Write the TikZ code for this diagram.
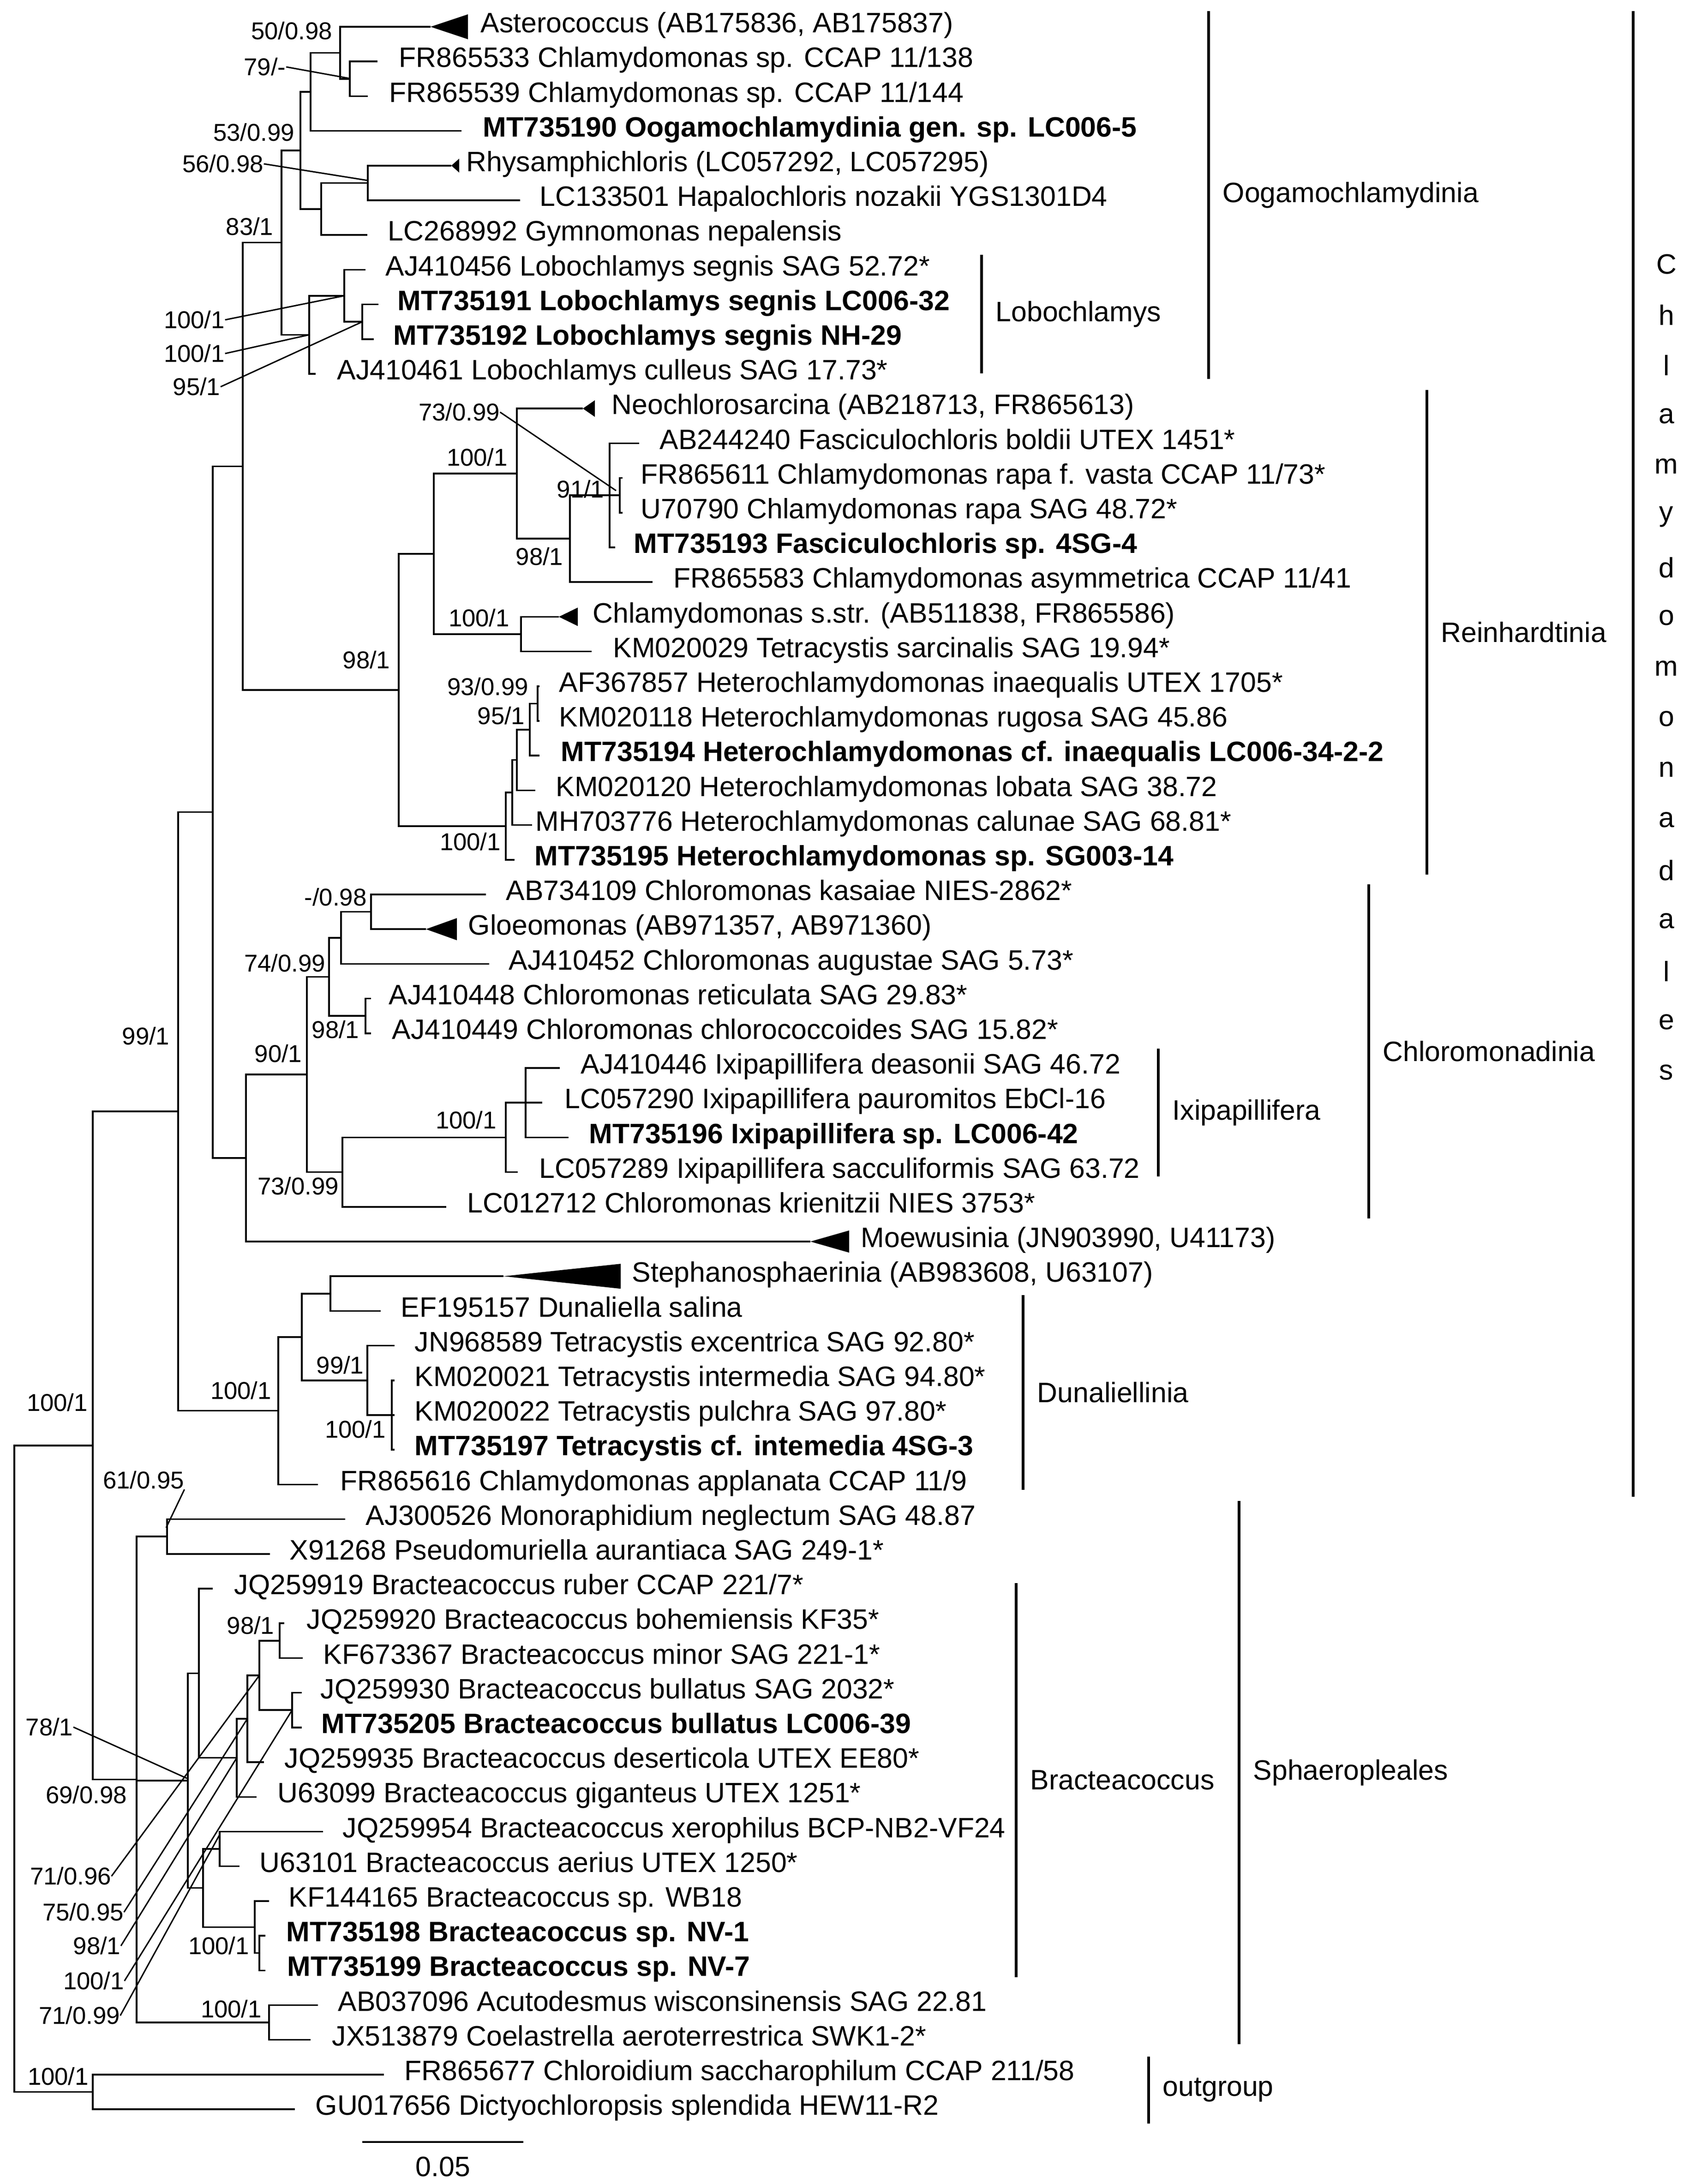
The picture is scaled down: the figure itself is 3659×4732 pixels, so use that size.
\documentclass[tikz,border=0pt]{standalone}
\usepackage{fontspec}
\setmainfont{Liberation Sans}
\newcommand\leaf[4]{\coordinate (e#1) at (#2,{58+(#1-1)*75.2}); \node[leaftext] (t#1) at (#3,{58+(#1-1)*75.2}) {#4};}
\newcommand\tri[3]{\fill (e#1) -- ++(#2,-#3) -- ++(0,2*#3) -- cycle;}
\begin{document}
\begin{tikzpicture}[x=0.1mm,y=-0.1mm,
  leaftext/.style={anchor=west,inner sep=0pt,font=\fontsize{17.3}{20}\selectfont,text height=0.9em,text depth=0.18em},
  sup/.style={inner sep=0pt,font=\fontsize{15}{17}\selectfont},
  br/.style={line width=0.35mm},
  lead/.style={line width=0.3mm},
  bar/.style={line width=0.6mm},
  clade/.style={anchor=west,inner sep=0pt,font=\fontsize{17.3}{20}\selectfont}]
\useasboundingbox (0,0) rectangle (3659,4732);
% leaves
\leaf{1}{933}{1041}{Asterococcus (AB175836, AB175837)}
\leaf{2}{818}{864}{FR865533 Chlamydomonas sp. CCAP 11/138}
\leaf{3}{797}{843}{FR865539 Chlamydomonas sp. CCAP 11/144}
\leaf{4}{1000}{1046}{\textbf{MT735190 Oogamochlamydinia gen. sp. LC006-5}}
\leaf{5}{978}{1010}{Rhysamphichloris (LC057292, LC057295)}
\leaf{6}{1127}{1169}{LC133501 Hapalochloris nozakii YGS1301D4}
\leaf{7}{796}{840}{LC268992 Gymnomonas nepalensis}
\leaf{8}{792}{835}{AJ410456 Lobochlamys segnis SAG 52.72*}
\leaf{9}{820}{861}{\textbf{MT735191 Lobochlamys segnis LC006-32}}
\leaf{10}{810}{852}{\textbf{MT735192 Lobochlamys segnis NH-29}}
\leaf{11}{684}{730}{AJ410461 Lobochlamys culleus SAG 17.73*}
\leaf{12}{1263}{1325}{Neochlorosarcina (AB218713, FR865613)}
\leaf{13}{1385}{1429}{AB244240 Fasciculochloris boldii UTEX 1451*}
\leaf{14}{1349}{1388}{FR865611 Chlamydomonas rapa f. vasta CCAP 11/73*}
\leaf{15}{1349}{1388}{U70790 Chlamydomonas rapa SAG 48.72*}
\leaf{16}{1333}{1373}{\textbf{MT735193 Fasciculochloris sp. 4SG-4}}
\leaf{17}{1414}{1459}{FR865583 Chlamydomonas asymmetrica CCAP 11/41}
\leaf{18}{1211}{1284}{Chlamydomonas s.str. (AB511838, FR865586)}
\leaf{19}{1282}{1328}{KM020029 Tetracystis sarcinalis SAG 19.94*}
\leaf{20}{1169}{1211}{AF367857 Heterochlamydomonas inaequalis UTEX 1705*}
\leaf{21}{1169}{1211}{KM020118 Heterochlamydomonas rugosa SAG 45.86}
\leaf{22}{1169}{1215}{\textbf{MT735194 Heterochlamydomonas cf. inaequalis LC006-34-2-2}}
\leaf{23}{1160}{1204}{KM020120 Heterochlamydomonas lobata SAG 38.72}
\leaf{24}{1153}{1160}{MH703776 Heterochlamydomonas calunae SAG 68.81*}
\leaf{25}{1115}{1158}{\textbf{MT735195 Heterochlamydomonas sp. SG003-14}}
\leaf{26}{1053}{1096}{AB734109 Chloromonas kasaiae NIES-2862*}
\leaf{27}{923}{1014}{Gloeomonas (AB971357, AB971360)}
\leaf{28}{1060}{1102}{AJ410452 Chloromonas augustae SAG 5.73*}
\leaf{29}{804}{842}{AJ410448 Chloromonas reticulata SAG 29.83*}
\leaf{30}{804}{849}{AJ410449 Chloromonas chlorococcoides SAG 15.82*}
\leaf{31}{1213}{1258}{AJ410446 Ixipapillifera deasonii SAG 46.72}
\leaf{32}{1175}{1223}{LC057290 Ixipapillifera pauromitos EbCl-16}
\leaf{33}{1232}{1276}{\textbf{MT735196 Ixipapillifera sp. LC006-42}}
\leaf{34}{1122}{1168}{LC057289 Ixipapillifera sacculiformis SAG 63.72}
\leaf{35}{967}{1012}{LC012712 Chloromonas krienitzii NIES 3753*}
\leaf{36}{1756}{1865}{Moewusinia (JN903990, U41173)}
\leaf{37}{1091}{1369}{Stephanosphaerinia (AB983608, U63107)}
\leaf{38}{825}{868}{EF195157 Dunaliella salina}
\leaf{39}{855}{898}{JN968589 Tetracystis excentrica SAG 92.80*}
\leaf{40}{855}{898}{KM020021 Tetracystis intermedia SAG 94.80*}
\leaf{41}{855}{898}{KM020022 Tetracystis pulchra SAG 97.80*}
\leaf{42}{855}{898}{\textbf{MT735197 Tetracystis cf. intemedia 4SG-3}}
\leaf{43}{689}{737}{FR865616 Chlamydomonas applanata CCAP 11/9}
\leaf{44}{748}{792}{AJ300526 Monoraphidium neglectum SAG 48.87}
\leaf{45}{585}{627}{X91268 Pseudomuriella aurantiaca SAG 249-1*}
\leaf{46}{461}{507}{JQ259919 Bracteacoccus ruber CCAP 221/7*}
\leaf{47}{616}{664}{JQ259920 Bracteacoccus bohemiensis KF35*}
\leaf{48}{656}{700}{KF673367 Bracteacoccus minor SAG 221-1*}
\leaf{49}{654}{694}{JQ259930 Bracteacoccus bullatus SAG 2032*}
\leaf{50}{654}{696}{\textbf{MT735205 Bracteacoccus bullatus LC006-39}}
\leaf{51}{572}{616}{JQ259935 Bracteacoccus deserticola UTEX EE80*}
\leaf{52}{556}{601}{U63099 Bracteacoccus giganteus UTEX 1251*}
\leaf{53}{700}{742}{JQ259954 Bracteacoccus xerophilus BCP-NB2-VF24}
\leaf{54}{519}{562}{U63101 Bracteacoccus aerius UTEX 1250*}
\leaf{55}{583}{625}{KF144165 Bracteacoccus sp. WB18}
\leaf{56}{575}{620}{\textbf{MT735198 Bracteacoccus sp. NV-1}}
\leaf{57}{575}{622}{\textbf{MT735199 Bracteacoccus sp. NV-7}}
\leaf{58}{689}{732}{AB037096 Acutodesmus wisconsinensis SAG 22.81}
\leaf{59}{673}{719}{JX513879 Coelastrella aeroterrestrica SWK1-2*}
\leaf{60}{832}{876}{FR865677 Chloroidium saccharophilum CCAP 211/58}
\leaf{61}{639}{683}{GU017656 Dictyochloropsis splendida HEW11-R2}
% collapsed clades
\tri{1}{81}{27}
\tri{5}{17}{15}
\tri{12}{26}{18}
\tri{18}{41}{20}
\tri{27}{67}{24}
\tri{36}{84}{24}
\tri{37}{254}{27}
% internal nodes (y shifted by +3 to match rows)
\begin{scope}[yshift=-0.3mm]
\coordinate (n1) at (758,167.8);
\coordinate (n2) at (737,111.4);
\coordinate (n3) at (673,196);
\coordinate (n4) at (797,393.4);
\coordinate (n5) at (696,449.8);
\coordinate (n6) at (651,322.9);
\coordinate (n8) at (785,694.2);
\coordinate (n9) at (746,637.8);
\coordinate (n10) at (670,722.4);
\coordinate (n7) at (610,522.6);
\coordinate (n11) at (1343,1070.2);
\coordinate (n13) at (1321,1070.2);
\coordinate (n14) at (1235,1164.2);
\coordinate (n15) at (1120,1023.2);
\coordinate (n17) at (1129,1371);
\coordinate (n16) at (940,1197.1);
\coordinate (n18) at (1165,1521.4);
\coordinate (n19) at (1148,1577.8);
\coordinate (n20) at (1120,1643.6);
\coordinate (n21a) at (1110,1714.1);
\coordinate (n21) at (1096,1787);
\coordinate (n22) at (864,1492);
\coordinate (n23) at (526,1007.3);
\coordinate (n24) at (804,1972.6);
\coordinate (n25) at (739,2029);
\coordinate (n26) at (792,2198.2);
\coordinate (n27) at (713,2113.6);
\coordinate (n28) at (1139,2386.2);
\coordinate (n29) at (1096,2461.4);
\coordinate (n30) at (742,2536.6);
\coordinate (n31) at (665,2325.1);
\coordinate (nX) at (533,2506);
\coordinate (n32) at (461,1756.7);
\coordinate (n34) at (716,2799.8);
\coordinate (n36) at (849,3063);
\coordinate (n35) at (796,2987.8);
\coordinate (n37) at (654,2893.8);
\coordinate (n38) at (603,3053.6);
\coordinate (n39) at (386,2405.2);
\coordinate (n42) at (362,3326.2);
\coordinate (nF) at (606,3551.8);
\coordinate (nG) at (633,3702.2);
\coordinate (nE) at (562,3627);
\coordinate (nD) at (536,3721);
\coordinate (nC) at (513,3805.6);
\coordinate (nA) at (431,3622.3);
\coordinate (nH) at (476,4003);
\coordinate (nJ) at (562,4228.6);
\coordinate (nI) at (552,4172.2);
\coordinate (nK) at (440,4087.6);
\coordinate (n44) at (407,3855);
\coordinate (n43) at (583,4379);
\coordinate (n41) at (296,3852.6);
\coordinate (n40) at (201,3128.9);
\coordinate (nO) at (201,4529.4);
\coordinate (root) at (31,3829);
\end{scope}
% branches
\begin{scope}[br]
\draw (n1) |- (e2); \draw (n1) |- (e3);
\draw (n2) |- (e1); \draw (n2) |- (n1);
\draw (n3) |- (n2); \draw (n3) |- (e4);
\draw (n4) |- (e5); \draw (n4) |- (e6);
\draw (n5) |- (n4); \draw (n5) |- (e7);
\draw (n6) |- (n3); \draw (n6) |- (n5);
\draw (n8) |- (e9); \draw (n8) |- (e10);
\draw (n9) |- (e8); \draw (n9) |- (n8);
\draw (n10) |- (n9); \draw (n10) |- (e11);
\draw (n7) |- (n6); \draw (n7) |- (n10);
\draw (n11) |- (e14); \draw (n11) |- (e15);
\draw (n13) |- (e13); \draw (n13) |- (n11); \draw (n13) |- (e16);
\draw (n14) |- (n13); \draw (n14) |- (e17);
\draw (n15) |- (e12); \draw (n15) |- (n14);
\draw (n17) |- (e18); \draw (n17) |- (e19);
\draw (n16) |- (n15); \draw (n16) |- (n17);
\draw (n18) |- (e20); \draw (n18) |- (e21);
\draw (n19) |- (n18); \draw (n19) |- (e22);
\draw (n20) |- (n19); \draw (n20) |- (e23);
\draw (n21a) |- (n20); \draw (n21a) |- (e24);
\draw (n21) |- (n21a); \draw (n21) |- (e25);
\draw (n22) |- (n16); \draw (n22) |- (n21);
\draw (n23) |- (n7); \draw (n23) |- (n22);
\draw (n24) |- (e26); \draw (n24) |- (e27);
\draw (n25) |- (n24); \draw (n25) |- (e28);
\draw (n26) |- (e29); \draw (n26) |- (e30);
\draw (n27) |- (n25); \draw (n27) |- (n26);
\draw (n28) |- (e31); \draw (n28) |- (e32); \draw (n28) |- (e33);
\draw (n29) |- (n28); \draw (n29) |- (e34);
\draw (n30) |- (n29); \draw (n30) |- (e35);
\draw (n31) |- (n27); \draw (n31) |- (n30);
\draw (nX) |- (n31); \draw (nX) |- (e36);
\draw (n32) |- (n23); \draw (n32) |- (nX);
\draw (n34) |- (e37); \draw (n34) |- (e38);
\draw (n36) |- (e40); \draw (n36) |- (e41); \draw (n36) |- (e42);
\draw (n35) |- (e39); \draw (n35) |- (n36);
\draw (n37) |- (n34); \draw (n37) |- (n35);
\draw (n38) |- (n37); \draw (n38) |- (e43);
\draw (n39) |- (n32); \draw (n39) |- (n38);
\draw (n42) |- (e44); \draw (n42) |- (e45);
\draw (nF) |- (e47); \draw (nF) |- (e48);
\draw (nG) |- (e49); \draw (nG) |- (e50);
\draw (nE) |- (nF); \draw (nE) |- (nG);
\draw (nD) |- (nE); \draw (nD) |- (e51);
\draw (nC) |- (nD); \draw (nC) |- (e52);
\draw (nA) |- (e46); \draw (nA) |- (nC);
\draw (nH) |- (e53); \draw (nH) |- (e54);
\draw (nJ) |- (e56); \draw (nJ) |- (e57);
\draw (nI) |- (e55); \draw (nI) |- (nJ);
\draw (nK) |- (nH); \draw (nK) |- (nI);
\draw (n44) |- (nA); \draw (n44) |- (nK);
\draw (n43) |- (e58); \draw (n43) |- (e59);
\draw (n41) |- (n42); \draw (n41) |- (n44); \draw (n41) |- (n43);
\draw (n40) |- (n39); \draw (n40) |- (n41);
\draw (nO) |- (e60); \draw (nO) |- (e61);
\draw (root) |- (n40); \draw (root) |- (nO);
\end{scope}
% support values
\node[sup] (s1) at (632,67) {50/0.98};
\node[sup] (s2) at (574,145) {79/-};
\node[sup] (s3) at (550,287) {53/0.99};
\node[sup] (s4) at (483,355) {56/0.98};
\node[sup] (s5) at (541,491) {83/1};
\node[sup] (s6) at (421,693) {100/1};
\node[sup] (s7) at (421,766) {100/1};
\node[sup] (s8) at (426,838) {95/1};
\node[sup] (s9) at (995,893) {73/0.99};
\node[sup] (s10) at (1034,991) {100/1};
\node[sup] (s11) at (1258,1060) {91/1};
\node[sup] (s12) at (1169,1206) {98/1};
\node[sup] (s13) at (1038,1339) {100/1};
\node[sup] (s14) at (794,1430) {98/1};
\node[sup] (s15) at (1057,1488) {93/0.99};
\node[sup] (s16) at (1086,1551) {95/1};
\node[sup] (s17) at (1019,1824) {100/1};
\node[sup] (s18) at (727,1944) {-/0.98};
\node[sup] (s19) at (617,2087) {74/0.99};
\node[sup] (s20) at (727,2231) {98/1};
\node[sup] (s21) at (603,2283) {90/1};
\node[sup] (s22) at (1010,2427) {100/1};
\node[sup] (s23) at (646,2570) {73/0.99};
\node[sup] (s24) at (316,2245) {99/1};
\node[sup] (s25) at (124,3039) {100/1};
\node[sup] (s26) at (522,3013) {100/1};
\node[sup] (s27) at (737,2958) {99/1};
\node[sup] (s28) at (770,3097) {100/1};
\node[sup] (s29) at (311,3207) {61/0.95};
\node[sup] (s30) at (107,3742) {78/1};
\node[sup] (s31) at (187,3889) {69/0.98};
\node[sup] (s32) at (153,4065) {71/0.96};
\node[sup] (s33) at (180,4143) {75/0.95};
\node[sup] (s34) at (210,4216) {98/1};
\node[sup] (s35) at (203,4292) {100/1};
\node[sup] (s36) at (172,4367) {71/0.99};
\node[sup] (s37) at (543,3522) {98/1};
\node[sup] (s38) at (474,4216) {100/1};
\node[sup] (s39) at (501,4353) {100/1};
\node[sup] (s40) at (126,4499) {100/1};
% leader lines
\coordinate (p2) at (758,170);
\coordinate (p4) at (797,391);
\coordinate (p9) at (1335,1063);
\coordinate (p29) at (360,3310);
\coordinate (p30) at (405,3853);
\coordinate (p36) at (476,3975);
\begin{scope}[lead]
\draw (s2.east) -- (p2);
\draw (s4.east) -- (p4);
\draw (s6.east) -- (n9);
\draw (s7.east) -- (n10);
\draw (s8.east) -- (n8);
\draw (s9.east) -- (p9);
\draw (s29.south east) -- (p29);
\draw (s30.east) -- (p30);
\draw (s32.east) -- (nE);
\draw (s33.east) -- (nD);
\draw (s34.east) -- (nC);
\draw (s35.east) -- (nG);
\draw (s36.east) -- (p36);
\end{scope}
% scale bar
\coordinate (sbL) at (785,4641);
\coordinate (sbR) at (1134,4641);
\draw[br] (sbL) -- (sbR);
\node[inner sep=0pt,font=\fontsize{17.3}{20}\selectfont] (sbl) at (960,4695) {0.05};
% clade bars
\newcommand\cladebar[5]{\coordinate (#1a) at (#2,#3); \coordinate (#1b) at (#2,#4); \draw[bar] (#1a) -- (#1b); \node[clade] (#1l) at ({#2+30},{(#3+#4)/2}) {#5};}
\cladebar{oog}{2619}{24}{821}{Oogamochlamydinia}
\cladebar{lob}{2127}{552}{809}{Lobochlamys}
\cladebar{rei}{3092}{845}{1895}{Reinhardtinia}
\cladebar{chl}{2966}{1916}{2640}{Chloromonadinia}
\cladebar{ixi}{2510}{2272}{2549}{Ixipapillifera}
\cladebar{dun}{2217}{2806}{3228}{Dunaliellinia}
\cladebar{bra}{2202}{3430}{4284}{Bracteacoccus}
\cladebar{sph}{2685}{3252}{4429}{Sphaeropleales}
\cladebar{out}{2489}{4456}{4601}{outgroup}
\coordinate (cda) at (3539,24); \coordinate (cdb) at (3539,3243);
\draw[bar] (cda) -- (cdb);
\foreach \c [count=\k] in {C,h,l,a,m,y,d,o,m,o,n,a,d,a,l,e,s}
  \node[inner sep=0pt,font=\fontsize{17.3}{20}\selectfont] (cd\k) at (3611,{573+(\k-1)*109.4}) {\c};
\end{tikzpicture}
\end{document}
